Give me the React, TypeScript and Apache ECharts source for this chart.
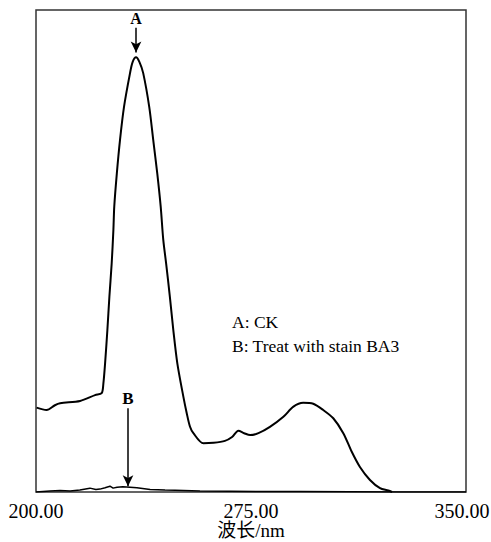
import React, { useEffect, useRef } from "react";
import * as echarts from "echarts";

// Wavelength (nm) / relative absorbance readings, curve A (CK)
const waveA = [200.2, 203.7, 206.6, 208.4, 215.4, 220.6, 222.9, 223.5, 224.1, 224.9, 225.6, 226.4, 227.0, 227.3, 228.2, 229.3, 230.7, 232.8, 233.7, 234.9, 236.1, 237.4, 239.5, 240.9, 242.3, 243.5, 244.4, 245.4, 246.7, 247.9, 249.3, 251.4, 252.6, 253.7, 254.9, 258.4, 261.9, 265.9, 268.4, 270.6, 272.6, 274.7, 277.6, 281.6, 286.3, 289.8, 293.2, 296.7, 300.2, 303.7, 307.2, 310.1, 313.0, 316.5, 320.0, 322.9, 324.2];
const valA = [17.5, 17.0, 18.0, 18.4, 18.9, 20.1, 20.5, 22.5, 26.7, 33.6, 40.5, 47.4, 54.4, 59.2, 66.1, 73.0, 79.9, 86.9, 89.2, 90.2, 89.2, 86.9, 79.9, 73.0, 66.1, 59.2, 52.3, 47.4, 40.5, 33.6, 26.7, 19.8, 16.3, 13.6, 12.2, 10.1, 10.2, 10.6, 11.4, 12.7, 12.2, 11.8, 12.2, 13.5, 15.6, 17.7, 18.5, 18.3, 17.0, 15.3, 12.2, 8.4, 5.2, 2.5, 0.8, 0.3, 0.0];

// Curve B (Treat with stain BA3)
const waveB = [200.0, 204.9, 208.4, 211.9, 215.3, 218.8, 220.9, 222.3, 224.1, 225.8, 226.9, 228.3, 230.3, 232.8, 235.2, 239.8, 245.0, 248.5, 257.2, 267.7, 278.1, 292.1, 309.5, 327.0, 350.0];
const valB = [0.0, 0.2, 0.3, 0.2, 0.4, 0.8, 0.5, 0.6, 0.9, 1.2, 0.8, 1.0, 1.1, 1.0, 0.9, 0.5, 0.4, 0.35, 0.2, 0.15, 0.1, 0.1, 0.05, 0.0, 0.0];

// Annotation arrows: [wavelength, top value, tip value]
const arrowA = [234.9, 96.3, 91.2];
const arrowB = [232.1, 17.4, 1.2];

const xTicks = [200, 275, 350];
const legendLines = ["A: CK", "B: Treat with stain BA3"];

const serif = "'Liberation Serif', 'Times New Roman', 'Noto Sans CJK SC', serif";

export default function App() {
  const ref = useRef<HTMLDivElement>(null);
  useEffect(() => {
    if (!ref.current) return;
    const chart = echarts.init(ref.current, undefined, { renderer: "svg" });
    const arrowLine = (a: number[], name: string, size: number) => ({
      silent: true,
      symbol: ["none", "arrow"],
      symbolSize: [8, 11],
      lineStyle: { color: "#000", width: 1.5, type: "solid" },
      label: {
        show: true,
        position: "start",
        formatter: name,
        color: "#000",
        fontFamily: serif,
        fontWeight: "bold",
        fontSize: size,
        distance: 1,
      },
      data: [[{ coord: [a[0], a[1]] }, { coord: [a[0], a[2]] }]],
    });
    chart.setOption({
      animation: false,
      backgroundColor: "#fff",
      grid: {
        left: 36,
        right: 25,
        top: 10,
        bottom: 50,
        show: true,
        borderColor: "#333",
        borderWidth: 1.5,
        backgroundColor: "transparent",
        outerBoundsMode: "none",
        containLabel: false,
      },
      xAxis: {
        type: "value",
        min: 200,
        max: 350,
        interval: 75,
        name: "波长/nm",
        nameLocation: "middle",
        nameGap: 29,
        nameMoveOverlap: false,
        nameTextStyle: { color: "#000", fontSize: 19, lineHeight: 19, fontFamily: serif },
        axisLine: { show: false },
        axisTick: { show: false },
        splitLine: { show: false },
        axisLabel: {
          color: "#000",
          fontSize: 20,
          fontFamily: serif,
          margin: 9,
          formatter: (v: number) =>
            xTicks.includes(v) ? (v === 350 ? `{r|${v.toFixed(2)}}` : v.toFixed(2)) : "",
          rich: {
            r: { fontSize: 20, fontFamily: serif, color: "#000", padding: [0, 8, 0, 0] },
          },
        },
      },
      yAxis: {
        type: "value",
        min: 0,
        max: 100,
        axisLine: { show: false },
        axisTick: { show: false },
        splitLine: { show: false },
        axisLabel: { show: false },
      },
      graphic: [
        {
          type: "text",
          left: 232,
          top: 310,
          style: {
            text: legendLines.join("\n"),
            fill: "#000",
            font: `17.5px ${serif}`,
            lineHeight: 24,
          },
        },
      ],
      series: [
        {
          type: "line",
          name: "A",
          data: waveA.map((w, i) => [w, valA[i]]),
          showSymbol: false,
          smooth: 0.3,
          lineStyle: { color: "#000", width: 2 },
          markLine: arrowLine(arrowA, "A", 16),
        },
        {
          type: "line",
          name: "B",
          data: waveB.map((w, i) => [w, valB[i]]),
          showSymbol: false,
          lineStyle: { color: "#000", width: 1.5 },
          markLine: arrowLine(arrowB, "B", 17),
        },
      ],
    });
    return () => chart.dispose();
  }, []);
  return <div ref={ref} style={{ width: 491, height: 542, position: "absolute", left: 0, top: 0 }} />;
}
